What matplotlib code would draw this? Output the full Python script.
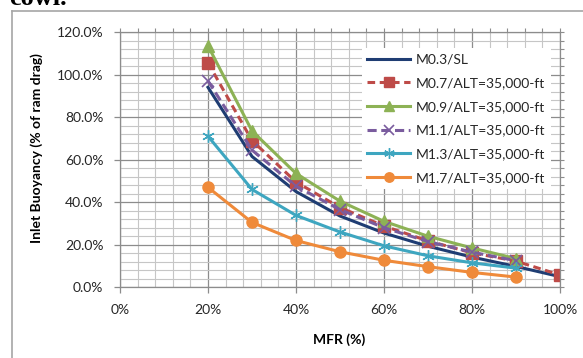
import numpy as np
import matplotlib.pyplot as plt
from matplotlib.lines import Line2D
from matplotlib.ticker import FuncFormatter, MultipleLocator

mfr_full = [20, 30, 40, 50, 60, 70, 80, 90, 100]
mfr_short = [20, 30, 40, 50, 60, 70, 80, 90]

m03_sl = [94.0, 61.5, 45.0, 33.5, 25.5, 19.3, 14.2, 9.8, 5.0]
m07_35k = [105.5, 69.0, 49.5, 37.5, 28.8, 21.8, 16.2, 12.3, 5.8]
m09_35k = [113.5, 73.5, 53.5, 40.5, 31.0, 24.0, 18.5, 13.5]
m11_35k = [97.0, 64.5, 47.5, 36.5, 28.0, 21.5, 16.5, 12.5]
m13_35k = [71.0, 46.0, 33.8, 26.0, 19.5, 14.8, 11.5, 9.0]
m17_35k = [47.0, 30.5, 22.0, 16.7, 12.7, 9.7, 7.0, 4.8]

series_labels = ["M0.3/SL", "M0.7/ALT=35,000-ft", "M0.9/ALT=35,000-ft",
                 "M1.1/ALT=35,000-ft", "M1.3/ALT=35,000-ft", "M1.7/ALT=35,000-ft"]

plt.rcParams['font.family'] = ['Lato', 'DejaVu Sans']

W, H = 583, 358
fig = plt.figure(figsize=(W / 100, H / 100), dpi=100)

# chart frame and the caption line cut off above it
fig.add_artist(Line2D([12 / W, 1.0], [1 - 11 / H, 1 - 11 / H], color='#a6a6a6', lw=1.2))
fig.add_artist(Line2D([12 / W, 12 / W], [0, 1 - 11 / H], color='#a6a6a6', lw=1.2))
fig.text(9 / W, 1 - 5 / H, "cowl.", family='Liberation Serif', weight='bold',
         fontsize=19, va='baseline', ha='left')

ax = fig.add_axes([120 / W, (H - 287.3) / H, 440 / W, 255.3 / H])

lw = 2.2
ax.plot(mfr_full, m03_sl, color='#1f3d73', lw=lw, label=series_labels[0])
ax.plot(mfr_full, m07_35k, color='#be4b48', lw=lw, dashes=(2.5, 1.5), marker='s',
        ms=8, label=series_labels[1])
ax.plot(mfr_short, m09_35k, color='#8db255', lw=lw, marker='^', ms=8,
        label=series_labels[2])
ax.plot(mfr_short, m11_35k, color='#7a5c9e', lw=lw, dashes=(3, 1.5), marker='x',
        ms=8, mew=1.2, label=series_labels[3])
ax.plot(mfr_short, m13_35k, color='#3ea6c0', lw=lw, marker=(6, 2, 0), ms=9,
        mew=1.0, label=series_labels[4])
ax.plot(mfr_short, m17_35k, color='#ef8a3a', lw=lw, marker='o', ms=8,
        label=series_labels[5])

ax.set_xlim(0, 100)
ax.set_ylim(0, 120)
ax.xaxis.set_major_locator(MultipleLocator(20))
ax.xaxis.set_minor_locator(MultipleLocator(4))
ax.yaxis.set_major_locator(MultipleLocator(20))
ax.yaxis.set_minor_locator(MultipleLocator(4))
ax.xaxis.set_major_formatter(FuncFormatter(lambda v, p: f"{v:.0f}%"))
ax.yaxis.set_major_formatter(FuncFormatter(lambda v, p: f"{v:.1f}%"))

ax.grid(which='major', color='#8c8c8c', lw=0.9)
ax.grid(which='minor', color='#c6c6c6', lw=0.8)
ax.set_axisbelow(True)
for s in ax.spines.values():
    s.set_color('#8c8c8c')
    s.set_linewidth(0.9)

ax.tick_params(which='major', direction='out', length=4, width=0.9, color='#8c8c8c',
               labelsize=10, pad=8, labelcolor='#262626')
ax.tick_params(which='minor', length=0)

# small outward ticks along the top and right edges
top = ax.secondary_xaxis('top')
top.set_xticks(np.arange(0, 101, 4))
top.tick_params(direction='out', length=3, color='#8c8c8c', labeltop=False)
top.spines['top'].set_visible(False)
right = ax.secondary_yaxis('right')
right.set_yticks(np.arange(0, 121, 4))
right.tick_params(direction='out', length=3, color='#8c8c8c', labelright=False)
right.spines['right'].set_visible(False)

ax.set_ylabel("Inlet Buoyancy (% of ram drag)", fontsize=10, weight='bold')
ax.yaxis.set_label_coords(-0.175, 0.546)
ax.set_xlabel("MFR (%)", fontsize=10, weight='bold')
ax.xaxis.set_label_coords(0.498, -0.179)

leg = ax.legend(loc='upper right', bbox_to_anchor=(0.995, 0.965), fontsize=10,
                frameon=True, fancybox=False, framealpha=1.0, edgecolor='none',
                handlelength=3.1, handletextpad=0.4, labelspacing=0.84,
                borderpad=0.4, markerscale=0.85)
for t in leg.get_texts():
    t.set_color('#262626')

fig.savefig("out.png", dpi=100)
